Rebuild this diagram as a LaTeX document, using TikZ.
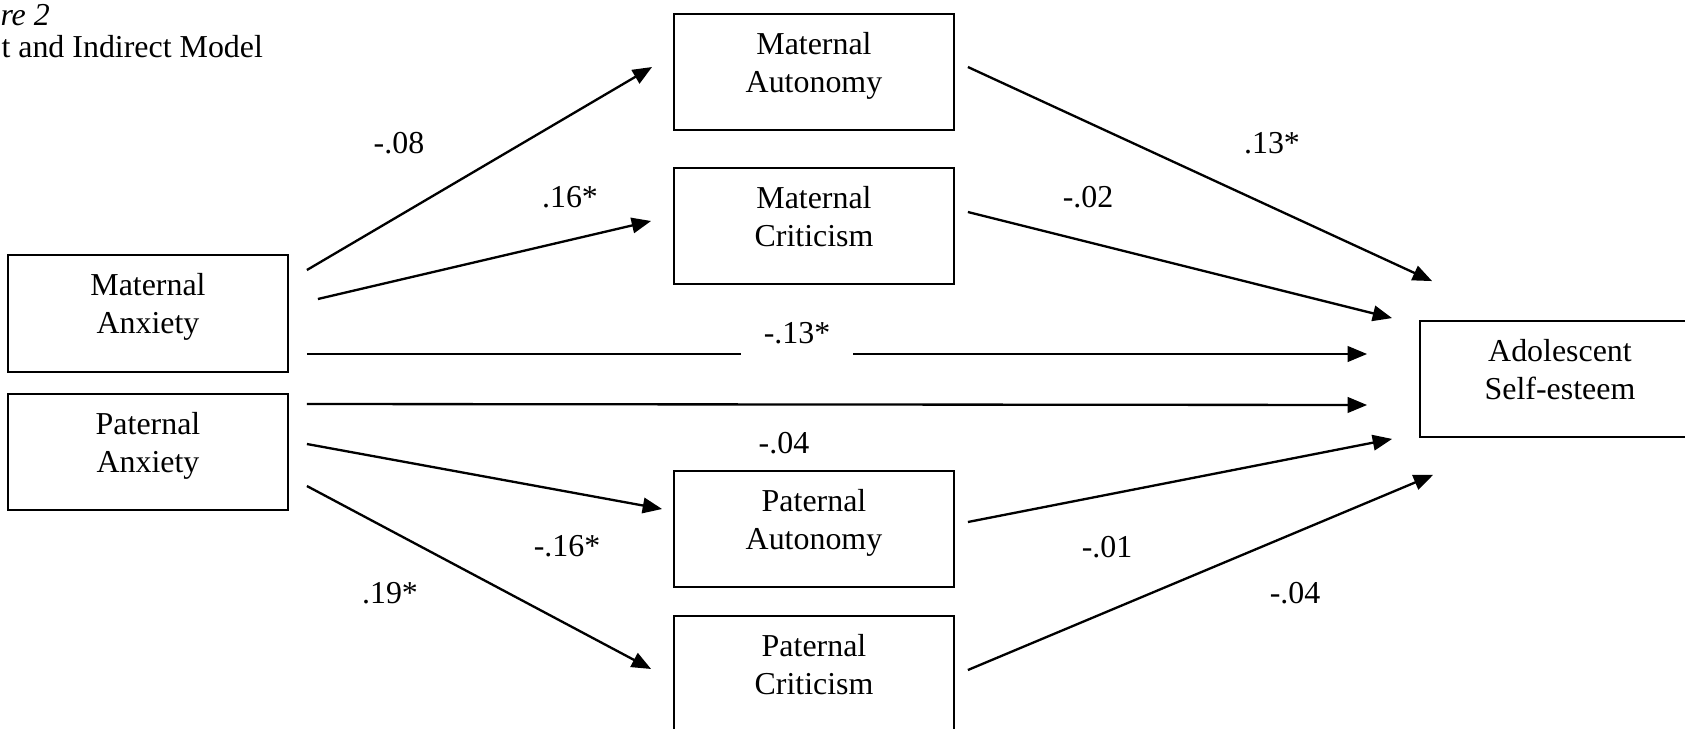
\documentclass[tikz,border=0pt]{standalone}
\usepackage{fontspec}
\setmainfont{Liberation Serif}
\usetikzlibrary{arrows.meta,calc}
\newcommand\twoln[2]{\parbox[t]{108pt}{\centering #1\\#2}}
\begin{document}
\begin{tikzpicture}[x=0.387pt,y=-0.387pt,
  box/.style={draw, line width=0.7pt, minimum width=108.36pt, minimum height=44.9pt, inner sep=0},
  boxtxt/.style={inner sep=0, anchor=base, font=\fontsize{12.35}{14.6}\selectfont},
  coef/.style={inner sep=0, font=\fontsize{12.35}{14.6}\selectfont},
  arr/.style={line width=0.9pt, -{Triangle[length=7.5pt,width=6pt]}}]
\useasboundingbox (0,0) rectangle (1685,728);

% caption (clipped at left in the reference)
\node[coef, anchor=base west] (fignum) at (0,25) {\textit{re 2}};
\node[coef, anchor=base west] (figtitle) at (1,57) {t and Indirect Model};

% boxes
\node[box, minimum height=45.3pt] (ma) at (148,313.5) {};
\node[box] (pa) at (148,452) {};
\node[box] (maut) at (814,72) {};
\node[box] (mcrit) at (814,226) {};
\node[box] (paut) at (814,529) {};
\node[box] (pcrit) at (814,674) {};
\node[box] (adol) at (1560,379) {};

\node[boxtxt] (mat) at ($(ma.north)+(0,41.5)$) {\twoln{Maternal}{Anxiety}};
\node[boxtxt] (pat) at ($(pa.north)+(0,41.5)$) {\twoln{Paternal}{Anxiety}};
\node[boxtxt] (mautt) at ($(maut.north)+(0,41.5)$) {\twoln{Maternal}{Autonomy}};
\node[boxtxt] (mcritt) at ($(mcrit.north)+(0,41.5)$) {\twoln{Maternal}{Criticism}};
\node[boxtxt] (pautt) at ($(paut.north)+(0,41.5)$) {\twoln{Paternal}{Autonomy}};
\node[boxtxt] (pcritt) at ($(pcrit.north)+(0,41.5)$) {\twoln{Paternal}{Criticism}};
\node[boxtxt] (adolt) at ($(adol.north)+(0,41.5)$) {\twoln{Adolescent}{Self-esteem}};

% connectors
\draw[arr] ($(ma.east)+(18,-43.5)$) -- ($(maut.west)+(-21,-5)$);
\draw[arr] ($(ma.east)+(29,-14.5)$) -- ($(mcrit.west)+(-22,-5)$);
\draw[arr] ($(ma.east)+(18,40.5)$) -- ($(adol.west)+(-52,-25)$);
\draw[arr] ($(pa.east)+(18,-48)$) -- ($(adol.west)+(-52,26)$);
\draw[arr] ($(pa.east)+(18,-8)$) -- ($(paut.west)+(-11,-20)$);
\draw[arr] ($(pa.east)+(18,34)$) -- ($(pcrit.west)+(-22,-5)$);
\draw[arr] ($(maut.east)+(13,-5)$) -- ($(adol.north west)+(13,-39)$);
\draw[arr] ($(mcrit.east)+(13,-14)$) -- ($(adol.north west)+(-27,-2)$);
\draw[arr] ($(paut.east)+(13,-7)$) -- ($(adol.south west)+(-27,1)$);
\draw[arr] ($(pcrit.east)+(13,-4)$) -- ($(adol.south west)+(14,37)$);

% coefficients
\node[coef] (c1) at (399,143) {-.08};
\node[coef] (c2) at (570,197) {.16*};
\node[coef] (c3) at (1272,143) {.13*};
\node[coef] (c4) at (1088,197) {-.02};
\node[coef, anchor=base, fill=white, minimum width=43.7pt, inner ysep=7pt] (c5) at (797,343) {-.13*};
\node[coef] (c6) at (784,443) {-.04};
\node[coef] (c7) at (567,546) {-.16*};
\node[coef] (c8) at (1107,547) {-.01};
\node[coef] (c9) at (390,593) {.19*};
\node[coef] (c10) at (1295,593) {-.04};
\end{tikzpicture}
\end{document}
